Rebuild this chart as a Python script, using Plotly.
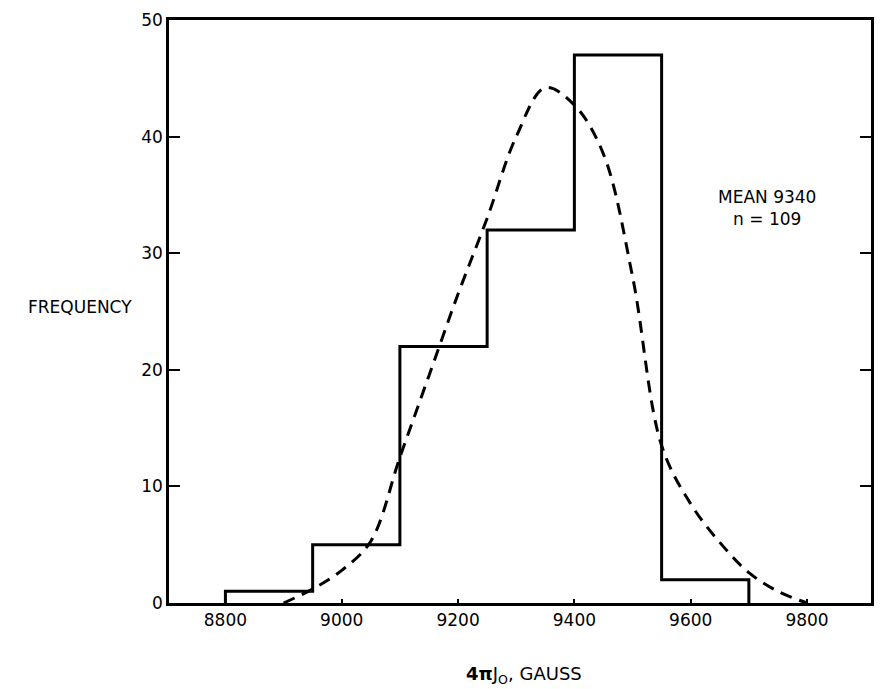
import plotly.graph_objects as go

# Histogram data
bin_edges = [8800, 8950, 9100, 9250, 9400, 9550, 9700]
counts = [1, 5, 22, 32, 47, 2]

# Fitted distribution curve (dashed)
curve_x = [8900, 8950, 9000, 9050, 9100, 9150, 9200, 9250, 9300, 9350, 9400, 9450, 9500, 9550, 9600, 9650, 9700, 9750, 9800]
curve_y = [0, 1.2, 2.8, 5.3, 12.5, 19.5, 26.5, 33, 40, 44.2, 42.7, 38.5, 28, 13.5, 8.5, 5.2, 2.6, 1, 0]

x_ticks = [8800, 9000, 9200, 9400, 9600, 9800]
y_ticks = [0, 10, 20, 30, 40, 50]

# step outline built from the bins
hx = [bin_edges[0]] + bin_edges
hy = [0] + counts + [0]

FONT = "DejaVu Sans"

fig = go.Figure()
fig.add_trace(go.Scatter(x=hx, y=hy, mode="lines", line_shape="hv",
                         line=dict(color="black", width=3), hoverinfo="skip"))
fig.add_trace(go.Scatter(x=curve_x, y=curve_y, mode="lines", line_shape="spline",
                         line=dict(color="black", width=3, dash="12px,8px"), hoverinfo="skip"))

fig.update_layout(
    width=881, height=689,
    margin=dict(l=169, r=7, t=20, b=86),
    paper_bgcolor="white", plot_bgcolor="white",
    showlegend=False,
    font=dict(family=FONT, size=16, color="black"),
    xaxis=dict(range=[8703, 9910], tickvals=x_ticks, ticktext=[str(v) for v in x_ticks],
               showgrid=False, zeroline=False, showline=True, linecolor="black", linewidth=2.5,
               mirror=True, ticks="inside", ticklen=4, tickcolor="black", tickwidth=2,
               tickfont=dict(family=FONT, size=17)),
    yaxis=dict(range=[0, 50], tickvals=y_ticks, ticktext=[str(v) for v in y_ticks],
               showgrid=False, zeroline=False, showline=True, linecolor="black", linewidth=2.5,
               mirror="allticks", ticks="inside", ticklen=11, tickcolor="black", tickwidth=2,
               tickfont=dict(family=FONT, size=17)),
    annotations=[
        dict(text="FREQUENCY", x=(80 - 169) / 705, xref="paper", y=25.4, yref="y",
             xanchor="center", yanchor="middle", showarrow=False,
             font=dict(family=FONT, size=17)),
        dict(text="MEAN 9340<br>n = 109", x=9731, xref="x", y=33.9, yref="y",
             xanchor="center", yanchor="middle", showarrow=False,
             align="center", font=dict(family=FONT, size=17)),
        dict(text="<b>4π</b>J<sub>O</sub>, GAUSS", x=9314, xref="x", y=-0.1235, yref="paper",
             xanchor="center", yanchor="middle", showarrow=False,
             font=dict(family=FONT, size=18)),
    ],
)

fig.write_html("out.html")
